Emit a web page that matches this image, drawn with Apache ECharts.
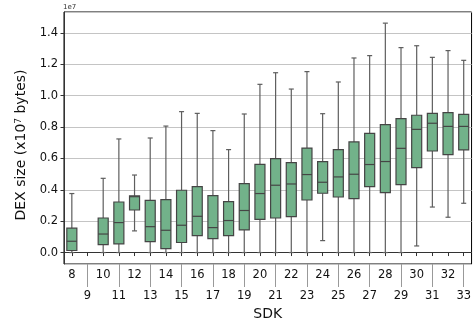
<!DOCTYPE html>
<html><head><meta charset="utf-8">
<script src="https://cdn.jsdelivr.net/npm/echarts@6/dist/echarts.min.js"></script>
<style>html,body{margin:0;padding:0;background:#fff}#c{width:474px;height:326px}</style>
</head><body><div id="c"></div>
<script>
// values in units of 1e7 bytes
const categories = ['8','9','10','11','12','13','14','15','16','17','18','19','20','21','22','23','24','25','26','27','28','29','30','31','32','33'];
const whiskerLow  = [0.0, null, 0.0, 0.0, 0.138, 0.0, 0.0, 0.0, 0.0, 0.0, 0.0, 0.0, 0.0, 0.0, 0.0, 0.0, 0.076, 0.0, 0.0, 0.0, 0.0, 0.0, 0.042, 0.290, 0.225, 0.314];
const q1          = [0.013, null, 0.051, 0.055, 0.271, 0.070, 0.025, 0.064, 0.108, 0.089, 0.108, 0.144, 0.212, 0.220, 0.229, 0.335, 0.378, 0.354, 0.344, 0.420, 0.382, 0.433, 0.541, 0.647, 0.624, 0.654];
const median      = [0.072, null, 0.118, 0.191, 0.356, 0.165, 0.142, 0.174, 0.231, 0.159, 0.204, 0.268, 0.376, 0.429, 0.437, 0.497, 0.448, 0.482, 0.499, 0.561, 0.580, 0.664, 0.785, 0.824, 0.804, 0.804];
const q3          = [0.155, null, 0.220, 0.322, 0.361, 0.333, 0.337, 0.397, 0.420, 0.363, 0.325, 0.439, 0.562, 0.599, 0.573, 0.666, 0.580, 0.656, 0.705, 0.760, 0.815, 0.854, 0.875, 0.887, 0.892, 0.881];
const whiskerHigh = [0.376, null, 0.473, 0.724, 0.494, 0.730, 0.806, 0.898, 0.887, 0.777, 0.656, 0.883, 1.072, 1.146, 1.042, 1.153, 0.885, 1.087, 1.240, 1.255, 1.462, 1.306, 1.318, 1.244, 1.287, 1.225];

const data = [];
categories.forEach((c, i) => {
  if (median[i] == null) return;
  data.push([i, whiskerLow[i], q1[i], median[i], q3[i], whiskerHigh[i]]);
});

const chart = echarts.init(document.getElementById('c'), null, {renderer: 'canvas'});
const FONT = 'DejaVu Sans';
const edge = '#454545';
const whisk = '#5e5e5e';

chart.setOption({
  animation: false,
  title: {text: '1e7', left: 63, top: 4, padding: 0, textStyle: {fontSize: 7, fontWeight: 'normal', color: '#333', fontFamily: FONT}},
  grid: {left: 64, right: 1, top: 12, bottom: 61, show: true, borderColor: '#000', borderWidth: 1, backgroundColor: 'transparent'},
  xAxis: [{
    type: 'category', data: categories, boundaryGap: true,
    name: 'SDK', nameLocation: 'middle', nameGap: 43,
    nameTextStyle: {fontSize: 14, fontFamily: FONT, color: '#111'},
    axisLine: {show: true, lineStyle: {color: '#333', width: 1}},
    axisTick: {show: true, alignWithLabel: true, length: 3.5, interval: 0, lineStyle: {color: '#333'}},
    axisLabel: {interval: (i) => i % 2 === 0, margin: 5, fontSize: 11.5, fontFamily: FONT, color: '#111'},
    splitLine: {show: false}
  }, {
    type: 'category', data: categories, boundaryGap: true, position: 'bottom',
    axisLine: {show: false},
    axisTick: {show: true, alignWithLabel: true, length: 23, interval: (i) => i % 2 === 1, lineStyle: {color: '#999'}},
    axisLabel: {interval: (i) => i % 2 === 1, margin: 26, fontSize: 11.5, fontFamily: FONT, color: '#111'},
    splitLine: {show: false}
  }],
  yAxis: {
    type: 'value', min: -0.073, max: 1.533, splitNumber: 8,
    name: '{a|DEX size (x10}{s|7}{a| bytes)}', nameLocation: 'middle', nameGap: 34,
    nameTextStyle: {padding: [0, 14, 0, 0], rich: {
      a: {fontSize: 14, fontFamily: FONT, color: '#111'},
      s: {fontSize: 9, fontFamily: FONT, color: '#111', verticalAlign: 'top', padding: [0, 0, 6, 0]}
    }},
    axisLine: {show: true, lineStyle: {color: '#333'}},
    axisTick: {show: true, length: 3.5, lineStyle: {color: '#333'}},
    axisLabel: {showMinLabel: false, showMaxLabel: false, margin: 6, fontSize: 11.5, fontFamily: FONT, color: '#111',
      formatter: (v) => (Math.abs(v) < 1e-9 ? 0 : v).toFixed(1)},
    splitLine: {show: true, lineStyle: {color: '#c4c4c4', width: 1}}
  },
  series: [{
    type: 'custom',
    xAxisIndex: 0,
    data: data,
    encode: {x: 0, y: [1, 2, 3, 4, 5]},
    renderItem: function (params, api) {
      const i = api.value(0);
      const pLo = api.coord([i, api.value(1)]);
      const pQ1 = api.coord([i, api.value(2)]);
      const pMed = api.coord([i, api.value(3)]);
      const pQ3 = api.coord([i, api.value(4)]);
      const pHi = api.coord([i, api.value(5)]);
      const x = pMed[0];
      const bw = api.size([1, 0])[0] * 0.64;
      const cw = bw / 2;
      const ls = {stroke: whisk, lineWidth: 1.2};
      return {
        type: 'group',
        children: [
          {type: 'line', shape: {x1: x, y1: pLo[1], x2: x, y2: pQ1[1]}, style: ls},
          {type: 'line', shape: {x1: x, y1: pQ3[1], x2: x, y2: pHi[1]}, style: ls},
          {type: 'line', shape: {x1: x - cw / 2, y1: pLo[1], x2: x + cw / 2, y2: pLo[1]}, style: ls},
          {type: 'line', shape: {x1: x - cw / 2, y1: pHi[1], x2: x + cw / 2, y2: pHi[1]}, style: ls},
          {type: 'rect', shape: {x: x - bw / 2, y: pQ3[1], width: bw, height: pQ1[1] - pQ3[1]},
            style: {fill: '#72b28a', stroke: edge, lineWidth: 1.2}},
          {type: 'line', shape: {x1: x - bw / 2, y1: pMed[1], x2: x + bw / 2, y2: pMed[1]}, style: {stroke: edge, lineWidth: 1.2}}
        ]
      };
    }
  }]
});
</script></body></html>
